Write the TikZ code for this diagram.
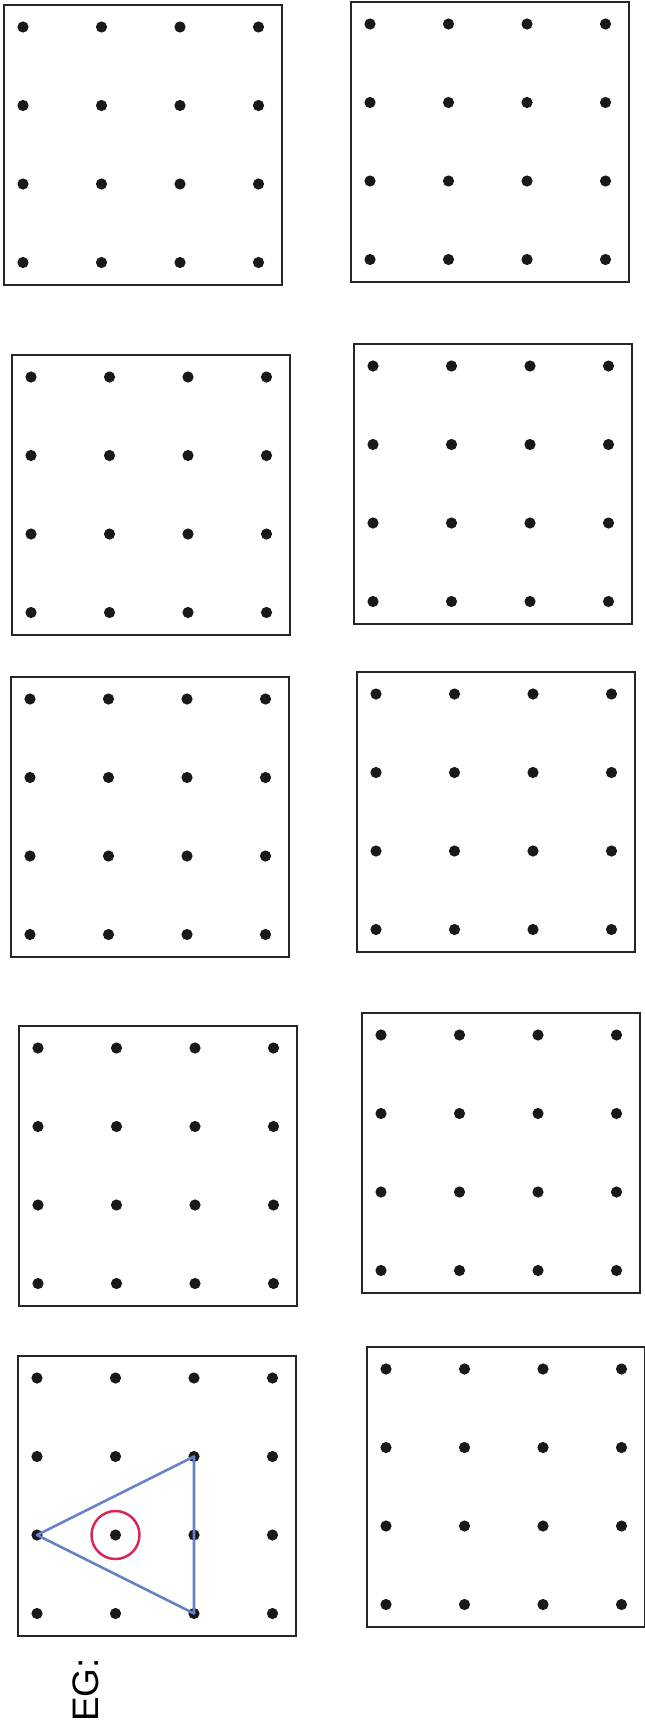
\documentclass[tikz,border=0pt]{standalone}
\usepackage{fontspec}
\setsansfont{Liberation Sans}
\usepackage{tikz}

\definecolor{triblue}{RGB}{104,130,200}
\definecolor{ringred}{RGB}{216,38,84}

\begin{document}
\begin{tikzpicture}[x=0.02cm, y=-0.02cm]
  \useasboundingbox (0,0) rectangle (645,1731);
  \foreach \name/\bx/\by in {la/4/5, ra/351/2, lb/12/355, rb/354/344, lc/11/677,
                             rc/357/672, ld/19/1026, rd/362/1013, eg/18/1356, re/367/1347} {
    \draw [line width=0.85pt, black!85] (\bx,\by) rectangle ++(278,280);
    \foreach \i in {0,...,3}
      \foreach \j in {0,...,3} {
        \coordinate (\name-\i-\j) at (\bx+19+78.5*\i, \by+22+78.5*\j);
        \fill [black!90] (\name-\i-\j) circle [radius=5.6];
      }
  }
  \draw [triblue, line width=1.5pt, line join=round] (eg-0-2) -- (eg-2-1) -- (eg-2-3) -- cycle;
  \draw [ringred, line width=1.4pt] (eg-1-2) circle [radius=24];
  \node [rotate=90, font=\sffamily\fontsize{21}{21}\selectfont] (eglabel) at (86,1690) {EG:};
\end{tikzpicture}
\end{document}
